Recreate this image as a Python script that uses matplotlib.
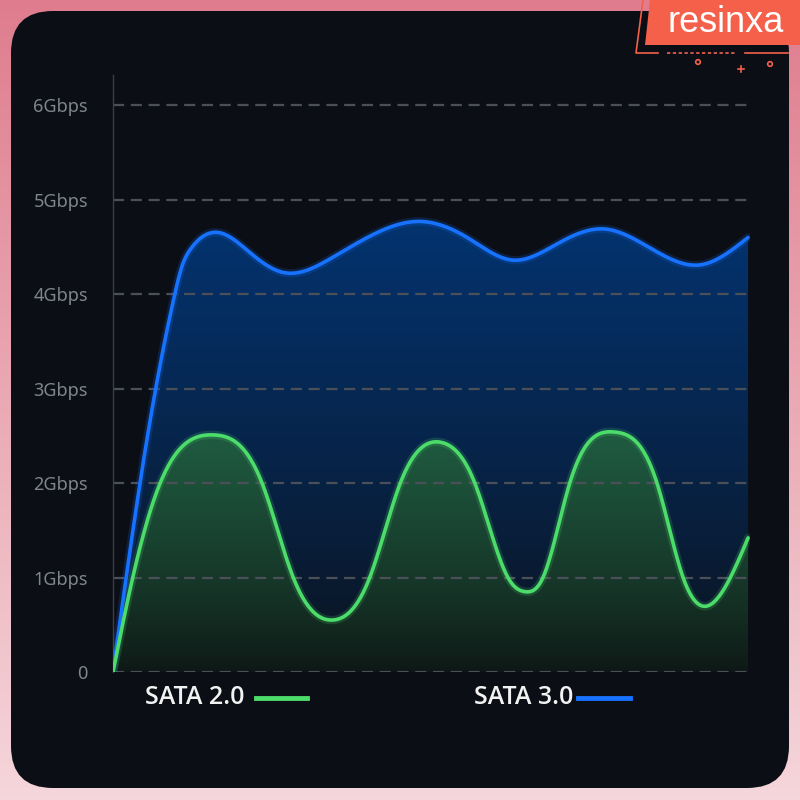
import numpy as np
import matplotlib.pyplot as plt
from matplotlib.patches import FancyBboxPatch, Polygon, Circle
from matplotlib.colors import to_rgb

# values (x: 0..100 across the plot, y: Gbps)
sata3_x = [0, 5.3, 9.7, 10.8, 12.1, 16.8, 21.5, 26.7, 34.5, 42.4, 47.9, 55.6, 62.8, 70.2, 77.2, 84.3, 92.2, 99.7]
sata3_y = [0, 2.45, 4.0, 4.29, 4.47, 4.65, 4.44, 4.23, 4.39, 4.68, 4.77, 4.60, 4.36, 4.55, 4.69, 4.49, 4.31, 4.60]
sata2_x = [0, 3.1, 7.4, 15.7, 23.4, 28.3, 34.5, 40.3, 45.1, 51.6, 56.8, 62.0, 64.7, 67.5, 71.7, 78.8, 85.4, 89.5, 93.7, 99.7]
sata2_y = [0, 1.0, 2.0, 2.51, 2.0, 1.0, 0.55, 1.0, 2.0, 2.43, 2.0, 1.0, 0.85, 1.0, 2.0, 2.54, 2.0, 1.0, 0.71, 1.42]
yticks = [0, 1, 2, 3, 4, 5, 6]
ylabels = ['0', '1Gbps', '2Gbps', '3Gbps', '4Gbps', '5Gbps', '6Gbps']
series_names = ['SATA 2.0', 'SATA 3.0']

BLUE = '#1672ff'
GREEN = '#4cdc6a'
PANEL = '#0b0e15'


def spline(x, y, n=30):
    # natural cubic spline through the read points
    x = np.asarray(x, float)
    y = np.asarray(y, float)
    N = len(x)
    h = np.diff(x)
    d = np.diff(y) / h
    A = np.zeros((N, N))
    r = np.zeros(N)
    A[0, 0] = A[-1, -1] = 1
    for i in range(1, N - 1):
        A[i, i - 1] = h[i - 1]
        A[i, i] = 2 * (h[i - 1] + h[i])
        A[i, i + 1] = h[i]
        r[i] = 6 * (d[i] - d[i - 1])
    M = np.linalg.solve(A, r)
    xs, ys = [], []
    for i in range(N - 1):
        t = np.linspace(x[i], x[i + 1], n)
        if i > 0:
            t = t[1:]
        a = x[i + 1] - t
        b = t - x[i]
        s = (M[i] * a ** 3 + M[i + 1] * b ** 3) / (6 * h[i]) \
            + (y[i] / h[i] - M[i] * h[i] / 6) * a + (y[i + 1] / h[i] - M[i + 1] * h[i] / 6) * b
        xs.append(t)
        ys.append(s)
    return np.concatenate(xs), np.concatenate(ys)


def gradient_fill(ax, x, y, top_col, bot_col, ytop):
    poly = Polygon(np.column_stack([np.r_[x, x[-1], x[0]], np.r_[y, 0, 0]]),
                   closed=True, facecolor='none', edgecolor='none')
    ax.add_patch(poly)
    frac = np.linspace(0, 1, 256)[:, None]
    c0 = np.array(to_rgb(bot_col))
    c1 = np.array(to_rgb(top_col))
    img = (c0 + (c1 - c0) * frac ** 0.8)[:, None, :]
    im = ax.imshow(img, extent=(0, 100, 0, ytop), origin='lower', aspect='auto', zorder=1)
    im.set_clip_path(poly)


fig = plt.figure(figsize=(8, 8), dpi=100)

# background and panel, drawn in pixel coords
bg = fig.add_axes([0, 0, 1, 1], zorder=0)
bg.set_xlim(0, 800)
bg.set_ylim(800, 0)
bg.axis('off')
grad = np.linspace(0, 1, 200)[:, None]
pink_top = np.array(to_rgb('#df7d8e'))
pink_bot = np.array(to_rgb('#f5d6db'))
bg.imshow((pink_top + (pink_bot - pink_top) * grad)[:, None, :], extent=(0, 800, 800, 0), aspect='auto')
bg.add_patch(FancyBboxPatch((11, 11), 778, 777, boxstyle='round,pad=0,rounding_size=42',
                            facecolor=PANEL, edgecolor='none'))
# badge
orange = '#f4604a'
bg.add_patch(Polygon([(650, 0), (800, 0), (800, 45), (645, 45)], closed=True, facecolor=orange, edgecolor='none'))
bg.text(726, 22, 'resinxa', color='white', fontsize=26, family='Liberation Sans', ha='center', va='center')
bg.plot([643, 636, 658], [0, 53, 53], color=orange, lw=1.2)
bg.plot([667, 737], [53, 53], color=orange, lw=1.2, ls=(0, (2, 1.5)))
bg.plot([745, 788], [53, 53], color=orange, lw=1.2)
bg.add_patch(Circle((698, 62), 2.3, facecolor='none', edgecolor=orange, lw=1.2))
bg.add_patch(Circle((770, 64), 2.3, facecolor='none', edgecolor=orange, lw=1.2))
bg.plot([741, 741], [66, 72], color=orange, lw=1.2)
bg.plot([738, 744], [69, 69], color=orange, lw=1.2)

# main chart
ax = fig.add_axes([113 / 800, 1 - 672 / 800, (750 - 113) / 800, (672 - 75) / 800], zorder=1)
ax.set_facecolor('none')
ax.set_xlim(0, 100)
ax.set_ylim(0, 6.32)

bx, by = spline(sata3_x, sata3_y)
gx, gy = spline(sata2_x, sata2_y)

gradient_fill(ax, bx, by, '#03336f', '#0c1119', 4.8)
gradient_fill(ax, gx, gy, '#1f5c41', '#0e1714', 2.55)

for yv in yticks:
    ax.axhline(yv, color='#4b5058', lw=1.6, ls=(0, (5, 3)), zorder=2)

ax.plot(bx, by, color=BLUE, lw=6, alpha=0.18, zorder=3, solid_capstyle='round')
ax.plot(bx, by, color=BLUE, lw=2.6, zorder=4, solid_capstyle='round')
ax.plot(gx, gy, color=GREEN, lw=6, alpha=0.18, zorder=3, solid_capstyle='round')
ax.plot(gx, gy, color=GREEN, lw=2.6, zorder=4, solid_capstyle='round')

ax.set_yticks(yticks)
ax.set_yticklabels(ylabels, family='Noto Sans', fontsize=13, color='#80858d')
ax.set_xticks([])
ax.tick_params(axis='y', length=0, pad=18)
for s in ['top', 'right', 'bottom']:
    ax.spines[s].set_visible(False)
ax.spines['left'].set_color('#3a3f47')
ax.spines['left'].set_linewidth(1)

# legend
fig.text(145 / 800, 1 - 698 / 800, series_names[0], color='#f2f2f2', fontsize=18,
         family='Open Sans', fontweight='semibold', ha='left', va='center')
fig.add_artist(plt.Line2D([256 / 800, 307 / 800], [1 - 698 / 800] * 2, color=GREEN, lw=3.5))
fig.text(474 / 800, 1 - 698 / 800, series_names[1], color='#f2f2f2', fontsize=18,
         family='Open Sans', fontweight='semibold', ha='left', va='center')
fig.add_artist(plt.Line2D([578 / 800, 630 / 800], [1 - 698 / 800] * 2, color=BLUE, lw=3.5))

fig.savefig('out.png', dpi=100)
